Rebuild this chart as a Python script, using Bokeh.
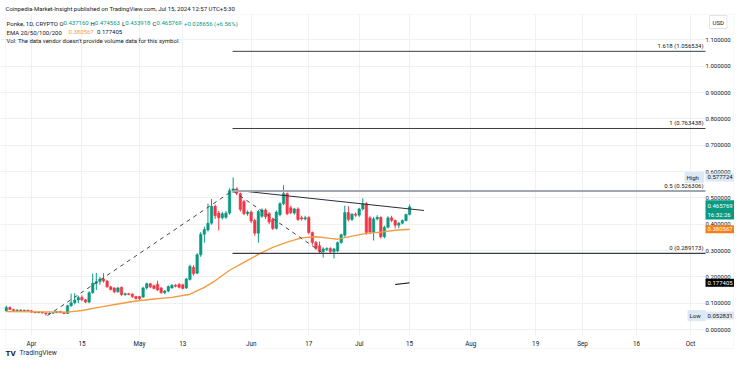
import pandas as pd
from bokeh.plotting import figure
from bokeh.models import (ColumnDataSource, Range1d, FixedTicker, Label, BoxAnnotation,
                          CustomJSTickFormatter, PrintfTickFormatter)
from bokeh.embed import file_html
from bokeh.resources import INLINE

# ---------------- data ----------------
dates = pd.date_range("2024-03-25", "2024-07-15", freq="D")
opens = [0.071, 0.084, 0.076, 0.072, 0.074, 0.071, 0.073, 0.071, 0.066, 0.064,
         0.066, 0.063, 0.060, 0.062, 0.064, 0.068, 0.064, 0.061, 0.090, 0.102,
         0.112, 0.122, 0.113, 0.104, 0.140, 0.176, 0.182, 0.192, 0.184, 0.162,
         0.158, 0.143, 0.160, 0.132, 0.136, 0.134, 0.125, 0.125, 0.123, 0.158,
         0.174, 0.166, 0.172, 0.158, 0.140, 0.146, 0.158, 0.168, 0.171, 0.170,
         0.158, 0.190, 0.236, 0.214, 0.284, 0.362, 0.378, 0.404, 0.468, 0.442,
         0.424, 0.426, 0.442, 0.528, 0.534, 0.516, 0.486, 0.440, 0.446, 0.414,
         0.366, 0.430, 0.454, 0.440, 0.418, 0.384, 0.436, 0.478, 0.516, 0.462,
         0.442, 0.458, 0.424, 0.420, 0.425, 0.368, 0.330, 0.318, 0.296, 0.304,
         0.308, 0.296, 0.298, 0.330, 0.358, 0.444, 0.418, 0.438, 0.434, 0.458,
         0.478, 0.424, 0.368, 0.420, 0.426, 0.352, 0.388, 0.424, 0.414, 0.396,
         0.404, 0.414, 0.437160]
highs = [0.090, 0.088, 0.079, 0.077, 0.076, 0.075, 0.075, 0.073, 0.068, 0.068,
         0.068, 0.065, 0.064, 0.066, 0.070, 0.071, 0.066, 0.094, 0.136, 0.138,
         0.128, 0.130, 0.116, 0.145, 0.212, 0.215, 0.200, 0.214, 0.188, 0.166,
         0.160, 0.162, 0.163, 0.140, 0.139, 0.138, 0.128, 0.128, 0.162, 0.178,
         0.177, 0.170, 0.185, 0.162, 0.150, 0.167, 0.172, 0.172, 0.176, 0.174,
         0.196, 0.246, 0.244, 0.290, 0.370, 0.390, 0.478, 0.496, 0.474, 0.450,
         0.446, 0.450, 0.536, 0.577724, 0.540, 0.520, 0.492, 0.452, 0.452, 0.420,
         0.454, 0.460, 0.460, 0.446, 0.424, 0.452, 0.484, 0.548, 0.520, 0.470,
         0.462, 0.464, 0.432, 0.432, 0.430, 0.372, 0.336, 0.334, 0.312, 0.312,
         0.312, 0.310, 0.334, 0.364, 0.470, 0.468, 0.442, 0.444, 0.462, 0.498,
         0.484, 0.430, 0.428, 0.434, 0.430, 0.394, 0.430, 0.432, 0.418, 0.408,
         0.418, 0.440, 0.474563]
lows = [0.068, 0.074, 0.070, 0.070, 0.069, 0.069, 0.069, 0.064, 0.062, 0.062,
        0.061, 0.052831, 0.057, 0.060, 0.062, 0.062, 0.058, 0.059, 0.086, 0.095,
        0.100, 0.108, 0.100, 0.100, 0.136, 0.150, 0.170, 0.178, 0.158, 0.148,
        0.138, 0.140, 0.128, 0.128, 0.130, 0.120, 0.113, 0.112, 0.120, 0.152,
        0.157, 0.152, 0.146, 0.136, 0.134, 0.142, 0.155, 0.160, 0.156, 0.152,
        0.154, 0.186, 0.205, 0.210, 0.276, 0.330, 0.372, 0.398, 0.420, 0.376,
        0.418, 0.420, 0.436, 0.518, 0.510, 0.448, 0.434, 0.432, 0.404, 0.356,
        0.330, 0.424, 0.420, 0.400, 0.378, 0.380, 0.430, 0.472, 0.434, 0.438,
        0.436, 0.412, 0.414, 0.414, 0.362, 0.322, 0.302, 0.288, 0.273, 0.298,
        0.290, 0.270, 0.294, 0.326, 0.352, 0.410, 0.412, 0.428, 0.428, 0.452,
        0.360, 0.362, 0.338, 0.414, 0.346, 0.346, 0.384, 0.408, 0.384, 0.384,
        0.400, 0.410, 0.433918]
closes = [0.084, 0.076, 0.072, 0.074, 0.071, 0.073, 0.071, 0.066, 0.064, 0.066,
          0.063, 0.060, 0.062, 0.064, 0.068, 0.064, 0.061, 0.090, 0.102, 0.112,
          0.122, 0.113, 0.104, 0.140, 0.176, 0.182, 0.192, 0.184, 0.162, 0.152,
          0.143, 0.158, 0.132, 0.136, 0.133, 0.125, 0.118, 0.117, 0.158, 0.174,
          0.162, 0.156, 0.150, 0.140, 0.146, 0.163, 0.168, 0.164, 0.160, 0.156,
          0.192, 0.240, 0.212, 0.284, 0.362, 0.380, 0.404, 0.468, 0.432, 0.424,
          0.440, 0.442, 0.528, 0.534, 0.518, 0.456, 0.440, 0.446, 0.412, 0.366,
          0.448, 0.454, 0.428, 0.408, 0.384, 0.446, 0.478, 0.516, 0.440, 0.444,
          0.458, 0.418, 0.420, 0.424, 0.368, 0.330, 0.308, 0.296, 0.306, 0.308,
          0.296, 0.306, 0.330, 0.360, 0.444, 0.418, 0.438, 0.434, 0.458, 0.478,
          0.368, 0.370, 0.420, 0.426, 0.352, 0.388, 0.424, 0.414, 0.396, 0.404,
          0.414, 0.437, 0.465769]

ema50_dates = ["2024-03-25", "2024-04-04", "2024-04-11", "2024-04-15", "2024-04-20",
               "2024-04-25", "2024-04-30", "2024-05-05", "2024-05-10", "2024-05-15",
               "2024-05-19", "2024-05-22", "2024-05-26", "2024-05-30", "2024-06-03",
               "2024-06-07", "2024-06-11", "2024-06-15", "2024-06-19", "2024-06-23",
               "2024-06-25", "2024-06-28", "2024-07-03", "2024-07-07", "2024-07-11",
               "2024-07-15"]
ema50_vals = [0.068, 0.067, 0.066, 0.072, 0.085, 0.097, 0.108, 0.116, 0.122, 0.134,
              0.160, 0.185, 0.225, 0.255, 0.285, 0.312, 0.332, 0.348, 0.352, 0.346,
              0.343, 0.352, 0.365, 0.370, 0.377, 0.380567]
ema200_dates = ["2024-07-11", "2024-07-13", "2024-07-15"]
ema200_vals = [0.171, 0.174, 0.177405]

pivot_dates = ["2024-04-05 10:00", "2024-05-26 20:00", "2024-06-21 00:00"]
pivot_prices = [0.052831, 0.527096, 0.289173]
trend_dates = ["2024-05-26 20:00", "2024-07-19 00:00"]
trend_prices = [0.530, 0.452]

fib_levels = ["1.618", "1", "0.5", "0"]
fib_prices = [1.056534, 0.763438, 0.526306, 0.289173]

price_ticks = [0.0, 0.1, 0.2, 0.3, 0.4, 0.5, 0.6, 0.7, 0.8, 0.9, 1.0, 1.1]
time_ticks = ["2024-04-01", "2024-04-15", "2024-05-01", "2024-05-13", "2024-06-01",
              "2024-06-17", "2024-07-01", "2024-07-15", "2024-08-01", "2024-08-19",
              "2024-09-01", "2024-09-16", "2024-10-01"]
time_labels = ["Apr", "15", "May", "13", "Jun", "17", "Jul", "15", "Aug", "19",
               "Sep", "16", "Oct"]

high_price, low_price = 0.577724, 0.052831
last_price, ema50_last, ema200_last = 0.465769, 0.380567, 0.177405

# ---------------- styling ----------------
GREEN = "#089981"
RED = "#f23645"
ORANGE = "#f59b3f"
DARK = "#131722"
FONT = "Roboto"
DAY = 86400000
W, H = 734, 357


def ms(d):
    return (pd.Timestamp(d) - pd.Timestamp("1970-01-01")) // pd.Timedelta("1ms")


apr1 = ms("2024-04-01")
PX_DAY = 3.601          # pixels per day
X_APR1 = 31             # pixel of Apr 1
PX_UNIT = 263.3         # pixels per 1.0 of price
Y_ZERO = 329            # pixel of price 0
x_start = apr1 - X_APR1 / PX_DAY * DAY
x_end = apr1 + (W - X_APR1) / PX_DAY * DAY
pane_end = apr1 + (705 - X_APR1) / PX_DAY * DAY

p = figure(frame_width=W, frame_height=H, x_axis_type="datetime",
           y_axis_location="right", output_backend="svg", toolbar_location=None,
           x_range=Range1d(x_start, x_end),
           y_range=Range1d((Y_ZERO - H) / PX_UNIT, Y_ZERO / PX_UNIT),
           min_border=0, min_border_left=0, min_border_right=0,
           min_border_top=0, min_border_bottom=0)
p.outline_line_color = None
p.background_fill_color = "white"
p.border_fill_color = "white"

# axes (labels drawn inward over the canvas edge)
tt_ms = [ms(d) for d in time_ticks]
xt = FixedTicker(ticks=tt_ms)
p.xaxis.ticker = xt
p.xgrid.ticker = xt
p.xaxis.formatter = CustomJSTickFormatter(
    args=dict(keys=tt_ms, labels=time_labels),
    code="const i = keys.findIndex(k => Math.abs(k - tick) < 1000); return i >= 0 ? labels[i] : '';")
yt = FixedTicker(ticks=price_ticks)
p.yaxis.ticker = yt
p.ygrid.ticker = yt
p.yaxis.formatter = PrintfTickFormatter(format="%.6f")
for ax in (p.xaxis[0], p.yaxis[0]):
    ax.axis_line_color = None
    ax.major_tick_line_color = None
    ax.minor_tick_line_color = None
    ax.major_tick_out = 0
    ax.major_tick_in = 0
    ax.major_label_text_font = FONT
    ax.major_label_text_color = DARK
p.yaxis.major_label_text_font_size = "6px"
p.xaxis.major_label_text_font_size = "6.3px"
p.yaxis.major_label_standoff = -29
p.xaxis.major_label_standoff = -18
p.grid.grid_line_color = "#eef0f4"
p.grid.grid_line_width = 1

# keep grid lines inside the chart pane
p.add_layout(BoxAnnotation(left=705, left_units="screen", fill_color="white",
                           fill_alpha=1, line_color=None, level="underlay"))
p.add_layout(BoxAnnotation(top=H - 335, top_units="screen", fill_color="white",
                           fill_alpha=1, line_color=None, level="underlay"))
p.add_layout(BoxAnnotation(bottom=H - 14, bottom_units="screen", fill_color="white",
                           fill_alpha=1, line_color=None, level="underlay"))
# chart border
p.add_layout(BoxAnnotation(left=5, right=W - 1, top=H - 14, bottom=H - 348,
                           left_units="screen", right_units="screen",
                           top_units="screen", bottom_units="screen",
                           fill_alpha=0, line_color="#e0e3eb", line_width=1,
                           level="underlay"))

# candles
tops = [max(o, c) for o, c in zip(opens, closes)]
bots = [min(o, c) for o, c in zip(opens, closes)]
cols = [GREEN if c >= o else RED for o, c in zip(opens, closes)]
src = ColumnDataSource(dict(date=dates, high=highs, low=lows, top=tops, bottom=bots, color=cols))
p.segment(x0="date", y0="low", x1="date", y1="high", line_color="color", line_width=1, source=src)
p.vbar(x="date", width=0.7 * DAY, top="top", bottom="bottom", fill_color="color",
       line_color="color", line_width=0.5, source=src)

# EMAs
p.line(pd.to_datetime(ema50_dates), ema50_vals, line_color=ORANGE, line_width=1.4)
p.line(pd.to_datetime(ema200_dates), ema200_vals, line_color="black", line_width=1)

# drawings: dashed swing lines, trend line, fib levels
p.line(pd.to_datetime(pivot_dates), pivot_prices, line_color="#434651",
       line_dash="4 4", line_width=1)
p.line(pd.to_datetime(trend_dates), trend_prices, line_color="#2a2e39", line_width=1)
fib_colors = ["#3a3d45", "#3a3d45", "#a3a6ad", "#3a3d45"]
fib_widths = [1, 1, 2, 1.3]
fib_x0 = pd.Timestamp(pivot_dates[1])
for lvl, pr, c, w in zip(fib_levels, fib_prices, fib_colors, fib_widths):
    p.segment(x0=[fib_x0], y0=[pr], x1=[pane_end], y1=[pr], line_color=c, line_width=w)
    p.add_layout(Label(x=703, y=pr, x_units="screen", y_units="data",
                       text=f"{lvl} ({pr:.6f})", text_align="right",
                       text_baseline="bottom", y_offset=2, text_font=FONT,
                       text_font_size="6px", text_color=DARK))


# ---------------- header texts ----------------
def txt(x, sy, text, color=DARK, size="6px", style="normal"):
    p.add_layout(Label(x=x, y=H - sy, x_units="screen", y_units="screen",
                       text=text, text_baseline="middle", text_font=FONT,
                       text_font_size=size, text_color=color, text_font_style=style))


txt(5, 7.5, "Coinpedia-Market-Insight published on TradingView.com, Jul 15, 2024 12:57 UTC+5:30")
txt(6, 22.5, "Ponke, 1D, CRYPTO")
txt(59, 22.5, "O")
txt(63, 22.5, f"{opens[-1]:.6f}", GREEN)
txt(90, 22.5, "H")
txt(94.3, 22.5, f"{highs[-1]:.6f}", GREEN)
txt(121.5, 22.5, "L")
txt(124.7, 22.5, f"{lows[-1]:.6f}", GREEN)
txt(152, 22.5, "C")
txt(156, 22.5, f"{closes[-1]:.6f}", GREEN)
txt(183.5, 22.5, "+0.028656 (+6.56%)", GREEN)
txt(6, 31.5, "EMA 20/50/100/200")
txt(68, 31.5, f"{ema50_last:.6f}", ORANGE)
txt(96.5, 31.5, f"{ema200_last:.6f}")
txt(6, 40, "Vol: The data vendor doesn't provide volume data for this symbol.")

# footer
txt(5, 352.5, "TV", size="8px", style="bold")
txt(19, 352.5, "TradingView", color="#2a2e39", size="6.8px")

# ---------------- price-scale tags ----------------
TAG_BG = "#dde8f5"


def tag(x, y, text, bg, color, yoff=0):
    p.add_layout(Label(x=x, y=y, x_units="screen", y_units="data", text=text,
                       text_baseline="middle", text_font=FONT, text_font_size="6px",
                       text_color=color, background_fill_color=bg, padding=2,
                       y_offset=yoff))


tag(684, high_price, "High  ", TAG_BG, DARK)
tag(705, high_price, "0.577724", TAG_BG, DARK)
tag(687, low_price, "Low  ", TAG_BG, DARK)
tag(705, low_price, "0.052831", TAG_BG, DARK)
tag(705, last_price, f"{last_price:.6f}\n16:32:26", GREEN, "white", yoff=-3)
tag(705, ema50_last, f"{ema50_last:.6f}", "#f57f17", "white")
tag(705, ema200_last, f"{ema200_last:.6f}", "black", "white")

# USD box
p.add_layout(Label(x=709, y=H - 21.5, x_units="screen", y_units="screen", text="USD",
                   text_baseline="middle", text_font=FONT, text_font_size="6px",
                   text_color=DARK, border_line_color="#e0e3eb",
                   background_fill_color="white", padding=3))

open("out.html", "w").write(file_html(p, INLINE))
